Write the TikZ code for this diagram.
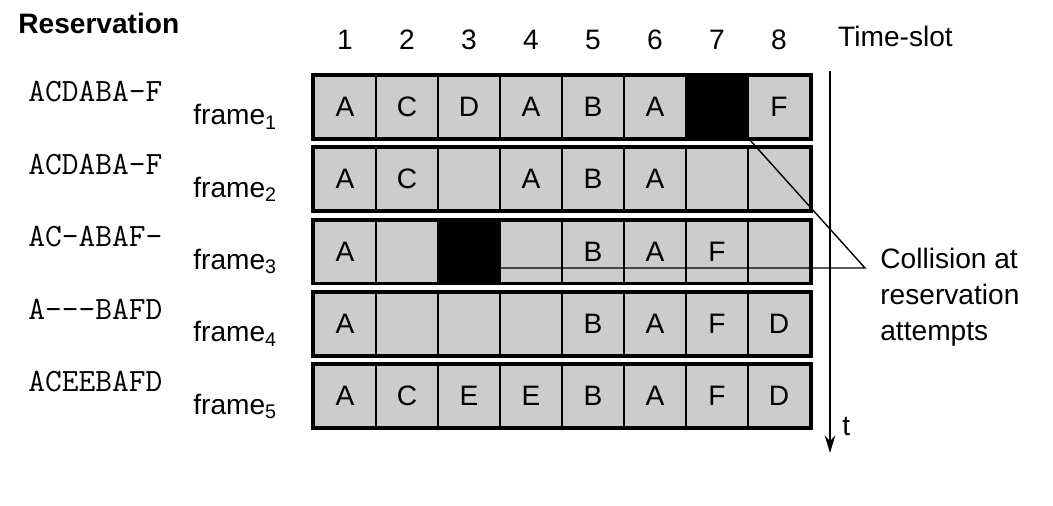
\documentclass[tikz,border=0pt]{standalone}
\usepackage{fontspec}
\setsansfont{Liberation Sans}
\usetikzlibrary{arrows.meta,positioning,calc}

\begin{document}
\begin{tikzpicture}[
    x=0.02cm, y=-0.02cm,
    txt/.style={font=\sffamily\fontsize{16}{20.4}\selectfont},
    slot/.style={txt, draw, line width=1.2pt, fill=black!20, minimum size=1.24cm, inner sep=0pt},
    busy/.style={slot, fill=black},
    res/.style={font=\ttfamily\fontsize{18.5}{20}\selectfont, anchor=west, inner sep=0pt},
    line/.style={draw, line width=0.8pt}
]
    \useasboundingbox (0,0) rectangle (1053,506);

    \node [font=\sffamily\bfseries\fontsize{16}{19}\selectfont, anchor=west, inner sep=0pt] (title) at (18,23) {Reservation};

    % one row of eight slots per frame
    \foreach \r/\res/\slots in {1/ACDABA-F/{A,C,D,A,B,A,,F}, 2/ACDABA-F/{A,C,,A,B,A,,}, 3/AC-ABAF-/{A,,,,B,A,F,}, 4/A---BAFD/{A,,,,B,A,F,D}, 5/ACEEBAFD/{A,C,E,E,B,A,F,D}} {
        \pgfmathsetmacro\y{107+72.3*(\r-1)}
        \node [res] (res\r) at (28,\y-15) {\res};
        \node [txt, anchor=west, inner sep=0pt] (fr\r) at (193,\y+10) {frame\textsubscript{\r}};
        \foreach \s [count=\c] in \slots
            \node [slot] (c\r\c) at (283+62*\c,\y) {\s};
        \draw [line width=2pt] (c\r1.north west) rectangle (c\r8.south east);
    }

    % collided slots
    \node [busy] (col1) at (c17) {};
    \node [busy] (col3) at (c33) {};

    \foreach \c in {1,...,8}
        \node [txt] (n\c) at (c1\c |- 0,40) {\c};
    \node [txt, anchor=west] (ts) at (832,36) {Time-slot};

    % time axis
    \coordinate (t0) at (830,71);
    \coordinate (t1) at (830,453);
    \draw [line width=1pt, -{Stealth[length=10pt,width=6pt]}] (t0) -- (t1);
    \node [txt, anchor=west, inner sep=0pt] (tlab) at (842,427) {t};

    \coordinate (hit) at (865,268);
    \path [line] (col1.south east) -- (hit) -- (col3.east |- hit);
    \node [txt, anchor=west, align=left, inner sep=0pt] (note) at (880,297) {Collision at\\reservation\\attempts};
\end{tikzpicture}
\end{document}
